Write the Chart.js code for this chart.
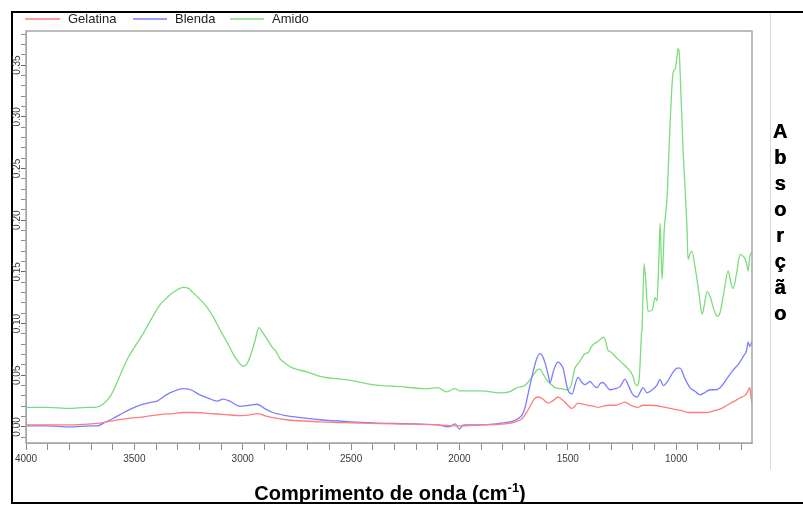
<!DOCTYPE html>
<html><head><meta charset="utf-8">
<script src="https://cdn.jsdelivr.net/npm/chart.js@4/dist/chart.umd.min.js"></script>
<style>html,body{margin:0;padding:0;background:#fff;overflow:hidden}canvas{display:block}</style>
</head><body>
<canvas id="c" width="803" height="505"></canvas>
<script>
// ---- series data (wavenumber cm-1, absorbance) ----
const seriesNames = ['Gelatina', 'Blenda', 'Amido'];
const seriesColors = ['rgb(255,125,125)', 'rgb(125,125,255)', 'rgb(125,220,125)'];

const gelatinaX = [4000,3900,3800,3700,3650,3600,3534,3450,3382,3320,3276,3220,3151,3080,3012,2960,2934,2900,2860,2800,2643,2500,2300,2100,2000,1900,1790,1740,1711,1690,1674,1655,1637,1615,1591,1565,1545,1530,1513,1480,1453,1430,1406,1380,1360,1340,1314,1280,1236,1210,1176,1153,1120,1074,1028,980,936,890,857,820,790,765,740,705,680,668,660,655,650];
const gelatinaY = [0.002,0.002,0.002,0.003,0.004,0.006,0.008,0.010,0.012,0.013,0.014,0.014,0.013,0.012,0.011,0.012,0.013,0.011,0.009,0.007,0.005,0.004,0.003,0.002,0.001,0.002,0.003,0.005,0.008,0.014,0.020,0.027,0.029,0.027,0.023,0.026,0.029,0.027,0.024,0.018,0.023,0.022,0.021,0.020,0.019,0.020,0.021,0.021,0.024,0.021,0.019,0.021,0.021,0.020,0.018,0.016,0.014,0.014,0.014,0.016,0.018,0.021,0.024,0.028,0.031,0.035,0.038,0.030,0.023];

const blendaX = [4000,3900,3800,3700,3672,3640,3600,3566,3520,3460,3420,3396,3360,3336,3300,3276,3240,3197,3160,3119,3090,3060,3012,2970,2934,2900,2860,2800,2768,2643,2500,2400,2200,2100,2050,2020,2000,1980,1900,1800,1750,1730,1710,1697,1680,1665,1645,1628,1615,1605,1590,1582,1565,1545,1530,1522,1510,1500,1480,1465,1453,1435,1420,1397,1380,1365,1350,1337,1320,1305,1280,1259,1236,1220,1199,1180,1165,1153,1134,1110,1090,1074,1060,1040,1014,995,982,960,936,910,890,870,843,820,797,765,737,715,691,675,668,660,650];
const blendaY = [0.001,0.001,0.000,0.001,0.001,0.004,0.008,0.012,0.017,0.022,0.024,0.025,0.030,0.033,0.036,0.037,0.036,0.031,0.028,0.025,0.027,0.025,0.020,0.021,0.022,0.018,0.014,0.011,0.010,0.007,0.005,0.004,0.003,0.002,0.000,0.003,-0.002,0.002,0.002,0.004,0.006,0.008,0.012,0.019,0.035,0.049,0.065,0.071,0.068,0.062,0.050,0.043,0.055,0.063,0.060,0.057,0.045,0.036,0.032,0.042,0.048,0.043,0.041,0.044,0.040,0.038,0.042,0.043,0.039,0.036,0.037,0.039,0.046,0.040,0.031,0.029,0.034,0.038,0.033,0.036,0.040,0.046,0.040,0.044,0.053,0.057,0.057,0.047,0.038,0.034,0.031,0.033,0.036,0.036,0.038,0.047,0.055,0.060,0.068,0.074,0.082,0.078,0.083];

const amidoX = [4000,3900,3800,3720,3680,3645,3610,3580,3534,3500,3460,3420,3382,3350,3322,3290,3276,3250,3230,3200,3165,3135,3105,3075,3045,3020,3000,2985,2966,2945,2925,2910,2888,2860,2850,2828,2800,2768,2700,2643,2500,2400,2274,2150,2100,2060,2020,2000,1900,1813,1770,1734,1700,1684,1660,1642,1630,1610,1596,1575,1559,1530,1503,1485,1467,1457,1440,1420,1406,1390,1374,1360,1342,1333,1314,1305,1280,1250,1230,1199,1190,1180,1170,1160,1157,1148,1140,1130,1111,1097,1088,1080,1074,1065,1055,1042,1028,1014,1005,998,991,985,982,968,950,945,935,927,913,895,880,870,857,843,825,811,797,780,760,748,737,720,705,690,683,675,668,660,650];
const amidoY = [0.019,0.019,0.018,0.019,0.019,0.022,0.030,0.043,0.065,0.077,0.090,0.105,0.118,0.125,0.130,0.134,0.135,0.134,0.130,0.124,0.116,0.106,0.094,0.083,0.071,0.063,0.059,0.060,0.068,0.082,0.096,0.092,0.085,0.076,0.074,0.066,0.061,0.057,0.053,0.049,0.045,0.041,0.039,0.037,0.038,0.034,0.037,0.035,0.035,0.033,0.034,0.038,0.040,0.043,0.050,0.055,0.056,0.050,0.045,0.041,0.038,0.037,0.036,0.040,0.057,0.060,0.065,0.071,0.072,0.078,0.081,0.083,0.086,0.087,0.074,0.073,0.068,0.062,0.058,0.049,0.042,0.040,0.048,0.090,0.097,0.158,0.140,0.112,0.113,0.125,0.122,0.160,0.197,0.143,0.190,0.222,0.293,0.343,0.346,0.355,0.366,0.360,0.345,0.268,0.193,0.162,0.168,0.170,0.155,0.130,0.109,0.118,0.131,0.126,0.113,0.107,0.111,0.130,0.151,0.140,0.134,0.150,0.167,0.165,0.163,0.158,0.151,0.165,0.169];

// ---- axes / tick labels ----
const xRange = [650, 4000];
const xMajorTicks = [4000, 3500, 3000, 2500, 2000, 1500, 1000];
const xMinorStep = 100;
const yRange = [-0.0155, 0.383];
const yMajorTicks = [0, 0.05, 0.10, 0.15, 0.20, 0.25, 0.30, 0.35];
const yMinorStep = 0.01;
const xTitleMain = 'Comprimento de onda (cm';
const xTitleSup = '-1';
const xTitleEnd = ')';
const yTitle = 'Absorção';

const FONT = "'Liberation Sans', Arial, sans-serif";
Chart.defaults.font.family = FONT;

function pts(xs, ys) { return xs.map((x, i) => ({ x: x, y: ys[i] })); }
const seriesX = [gelatinaX, blendaX, amidoX];
const seriesY = [gelatinaY, blendaY, amidoY];

const xTickValues = [];
for (let v = 700; v <= xRange[1]; v += xMinorStep) xTickValues.push(v);
const yTickValues = [];
for (let i = -1; i <= 38; i++) yTickValues.push(i * yMinorStep);

const decorPlugin = {
  id: 'decor',
  afterDraw(chart) {
    const ctx = chart.ctx;
    const a = chart.chartArea;
    const ys = chart.scales.y;
    ctx.save();
    // plot frame
    ctx.strokeStyle = '#a6a6a6';
    ctx.lineWidth = 1.5;
    ctx.strokeRect(a.left, a.top, a.right - a.left, a.bottom - a.top);
    // outer frame
    ctx.strokeStyle = '#000';
    ctx.lineWidth = 2;
    ctx.beginPath();
    ctx.moveTo(803, 12); ctx.lineTo(12, 12); ctx.lineTo(12, 503); ctx.lineTo(803, 503);
    ctx.stroke();
    // right separator
    ctx.strokeStyle = '#d9d9d9';
    ctx.lineWidth = 1;
    ctx.beginPath(); ctx.moveTo(770.5, 13); ctx.lineTo(770.5, 470); ctx.stroke();
    // y tick labels (rotated)
    ctx.fillStyle = '#3a3a3a';
    ctx.font = '10px ' + FONT;
    ctx.textAlign = 'center';
    ctx.textBaseline = 'middle';
    yMajorTicks.forEach(v => {
      const py = ys.getPixelForValue(v);
      ctx.save();
      ctx.translate(17, py);
      ctx.rotate(-Math.PI / 2);
      ctx.fillText(v.toFixed(2), 0, 0);
      ctx.restore();
    });
    // legend
    ctx.font = '13px ' + FONT;
    ctx.textAlign = 'left';
    const legX = [[25, 60, 68], [133, 167, 175], [230, 264, 272]];
    seriesNames.forEach((n, i) => {
      ctx.strokeStyle = seriesColors[i];
      ctx.lineWidth = 1.3;
      ctx.beginPath(); ctx.moveTo(legX[i][0], 19); ctx.lineTo(legX[i][1], 19); ctx.stroke();
      ctx.fillStyle = '#222';
      ctx.fillText(n, legX[i][2], 19);
    });
    // right vertical title
    ctx.fillStyle = '#000';
    ctx.font = 'bold 20px ' + FONT;
    ctx.textAlign = 'center';
    [...yTitle].forEach((ch, i) => {
      ctx.fillText(ch, 780, 132 + i * 26);
      ctx.fillText(ch, 780.5, 132 + i * 26);
    });
    // x title
    ctx.textBaseline = 'alphabetic';
    ctx.textAlign = 'left';
    const fMain = 'bold 20px ' + FONT, fSup = 'bold 13px ' + FONT;
    ctx.font = fMain; const w1 = ctx.measureText(xTitleMain).width; const w3 = ctx.measureText(xTitleEnd).width;
    ctx.font = fSup; const w2 = ctx.measureText(xTitleSup).width;
    let tx = 390 - (w1 + w2 + w3) / 2;
    const by = 500;
    ctx.font = fMain; ctx.fillText(xTitleMain, tx, by); tx += w1;
    ctx.font = fSup; ctx.fillText(xTitleSup, tx, by - 8); tx += w2;
    ctx.font = fMain; ctx.fillText(xTitleEnd, tx, by);
    ctx.restore();
  }
};

new Chart(document.getElementById('c'), {
  type: 'line',
  data: {
    datasets: seriesNames.map((n, i) => ({
      label: n,
      data: pts(seriesX[i], seriesY[i]),
      borderColor: seriesColors[i],
      backgroundColor: seriesColors[i],
      borderWidth: 1.3,
      pointRadius: 0,
      cubicInterpolationMode: 'monotone',
      fill: false
    }))
  },
  options: {
    responsive: false,
    animation: false,
    devicePixelRatio: 1,
    layout: { padding: { left: 18, top: 31, right: 51, bottom: 0 } },
    plugins: { legend: { display: false }, tooltip: { enabled: false } },
    scales: {
      x: {
        type: 'linear',
        reverse: true,
        min: xRange[0],
        max: xRange[1],
        afterBuildTicks: s => { s.ticks = xTickValues.slice().reverse().map(v => ({ value: v })); },
        afterFit: s => { s.height = 62; },
        ticks: {
          autoSkip: false, maxRotation: 0, minRotation: 0,
          color: '#3a3a3a', font: { size: 10 }, padding: 3,
          callback: v => xMajorTicks.includes(v) ? String(v) : ''
        },
        grid: { drawOnChartArea: false, drawTicks: true, tickLength: 7, color: '#8c8c8c' },
        border: { display: true, color: '#a6a6a6' }
      },
      y: {
        type: 'linear',
        min: yRange[0],
        max: yRange[1],
        afterBuildTicks: s => { s.ticks = yTickValues.map(v => ({ value: v })); },
        afterFit: s => { s.width = 8; },
        ticks: { display: false },
        grid: {
          drawOnChartArea: false, drawTicks: true, tickLength: 5,
          color: ctx => (Math.abs(ctx.tick.value * 20 - Math.round(ctx.tick.value * 20)) < 1e-6 ? '#666' : '#8c8c8c')
        },
        border: { display: true, color: '#a6a6a6' }
      }
    }
  },
  plugins: [decorPlugin]
});
</script>
</body></html>
